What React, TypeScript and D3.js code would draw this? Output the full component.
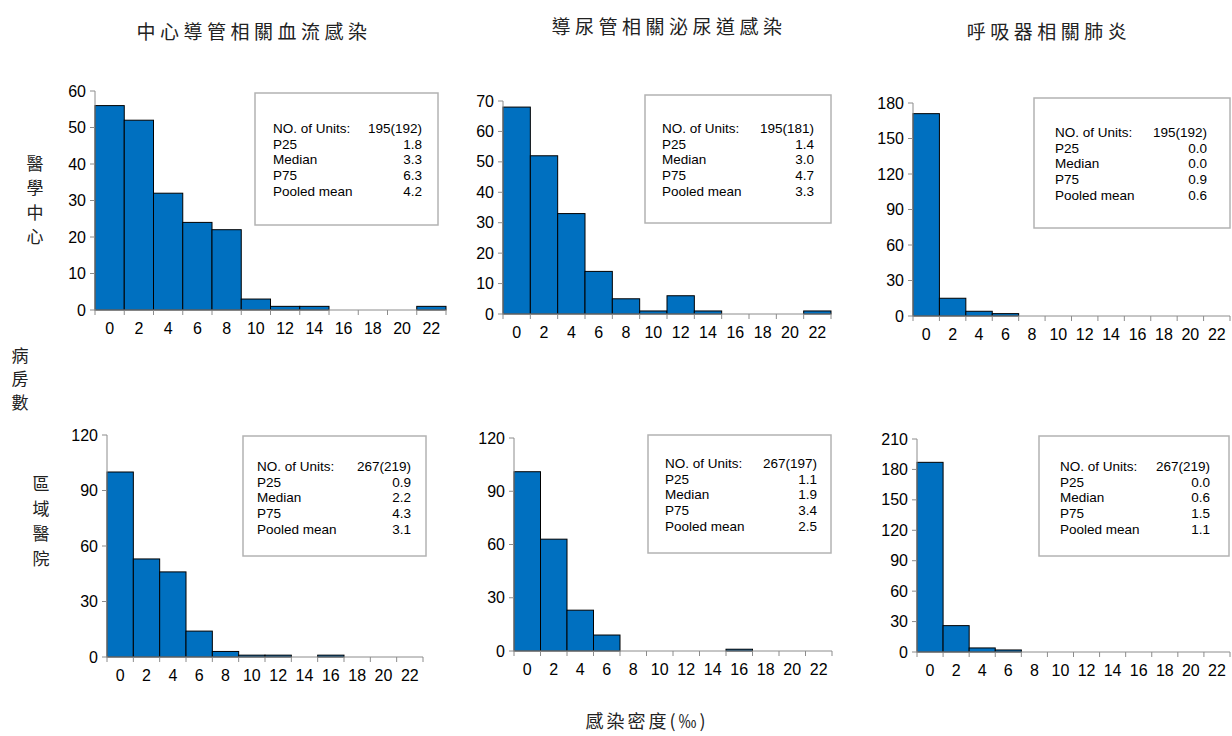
import React from "react";
import * as d3 from "d3";

// ---- Data ----
const binLabels = ["0", "2", "4", "6", "8", "10", "12", "14", "16", "18", "20", "22"];
const columnTitles = ["中心導管相關血流感染", "導尿管相關泌尿道感染", "呼吸器相關肺炎"];
const rowLabels = ["醫學中心", "區域醫院"];
const yAxisTitle = "病房數";
const xAxisTitle = "感染密度(‰)";

const clabsiMedical = [56, 52, 32, 24, 22, 3, 1, 1, 0, 0, 0, 1];
const cautiMedical = [68, 52, 33, 14, 5, 1, 6, 1, 0, 0, 0, 1];
const vapMedical = [171, 15, 4, 2, 0, 0, 0, 0, 0, 0, 0, 0];
const clabsiRegional = [100, 53, 46, 14, 3, 1, 1, 0, 1, 0, 0, 0];
const cautiRegional = [101, 63, 23, 9, 0, 0, 0, 0, 1, 0, 0, 0];
const vapRegional = [187, 26, 4, 2, 0, 0, 0, 0, 0, 0, 0, 0];

const statLabels = ["NO. of Units:", "P25", "Median", "P75", "Pooled mean"];
const statsClabsiMedical = ["195(192)", "1.8", "3.3", "6.3", "4.2"];
const statsCautiMedical = ["195(181)", "1.4", "3.0", "4.7", "3.3"];
const statsVapMedical = ["195(192)", "0.0", "0.0", "0.9", "0.6"];
const statsClabsiRegional = ["267(219)", "0.9", "2.2", "4.3", "3.1"];
const statsCautiRegional = ["267(197)", "1.1", "1.9", "3.4", "2.5"];
const statsVapRegional = ["267(219)", "0.0", "0.6", "1.5", "1.1"];

const yMaxes = [60, 70, 180, 120, 120, 210];
const ySteps = [10, 10, 30, 30, 30, 30];

// ---- Layout ----
const panels = [
  { values: clabsiMedical, stats: statsClabsiMedical, x0: 95, x1: 446, yBase: 310, yTop: 91, box: [255, 93, 438, 225], tx: 273, vx: 422, ty: 128, lh: 15.8 },
  { values: cautiMedical, stats: statsCautiMedical, x0: 503, x1: 831, yBase: 314, yTop: 101, box: [645, 95, 831, 223], tx: 662, vx: 814, ty: 128, lh: 15.8 },
  { values: vapMedical, stats: statsVapMedical, x0: 913, x1: 1230, yBase: 316, yTop: 103, box: [1034, 98, 1230, 228], tx: 1055, vx: 1207, ty: 132, lh: 15.8 },
  { values: clabsiRegional, stats: statsClabsiRegional, x0: 107, x1: 423, yBase: 657, yTop: 435, box: [243, 436, 426, 556], tx: 257, vx: 411, ty: 466, lh: 15.8 },
  { values: cautiRegional, stats: statsCautiRegional, x0: 514, x1: 832, yBase: 651, yTop: 438, box: [648, 435, 831, 553], tx: 665, vx: 817, ty: 463, lh: 15.8 },
  { values: vapRegional, stats: statsVapRegional, x0: 917, x1: 1230, yBase: 652, yTop: 439, box: [1039, 436, 1229, 556], tx: 1060, vx: 1210, ty: 466, lh: 15.8 },
];

const SANS = "Liberation Sans, Arial, sans-serif";
const CJK = "'Noto Sans CJK TC', 'Noto Sans CJK SC', sans-serif";
const AXIS = "#8c8c8c";

function Panel({ p, i }: { p: any; i: number }) {
  const x = d3.scaleBand<string>().domain(binLabels).range([p.x0, p.x1]).padding(0);
  const y = d3.scaleLinear().domain([0, yMaxes[i]]).range([p.yBase, p.yTop]);
  const yTicks = d3.range(0, yMaxes[i] + 1, ySteps[i]);
  const bw = x.bandwidth();
  const boundaries = d3.range(0, binLabels.length + 1).map((k) => p.x0 + k * bw);
  const [bx0, by0, bx1, by1] = p.box;
  return (
    <g>
      {p.values.map((v: number, k: number) =>
        v > 0 ? (
          <rect
            key={k}
            x={x(binLabels[k])}
            y={y(v)}
            width={bw}
            height={p.yBase - y(v)}
            fill="#0070C0"
            stroke="#000"
            strokeWidth={1}
          />
        ) : null
      )}
      <line x1={p.x0} x2={p.x0} y1={p.yBase} y2={y(yMaxes[i])} stroke={AXIS} strokeWidth={1} />
      {yTicks.map((t) => (
        <g key={t}>
          <line x1={p.x0 - 5} x2={p.x0} y1={y(t)} y2={y(t)} stroke={AXIS} />
          <text x={p.x0 - 9} y={y(t)} dy="0.35em" textAnchor="end" fontFamily={SANS} fontSize={16} fill="#000">
            {t}
          </text>
        </g>
      ))}
      <line x1={p.x0} x2={p.x1} y1={p.yBase} y2={p.yBase} stroke={AXIS} strokeWidth={1} />
      {boundaries.map((b, k) => (
        <line key={k} x1={b} x2={b} y1={p.yBase} y2={p.yBase + 5} stroke={AXIS} />
      ))}
      {binLabels.map((l) => (
        <text key={l} x={(x(l) as number) + bw / 2} y={p.yBase + 18} dy="0.35em" textAnchor="middle" fontFamily={SANS} fontSize={16} fill="#000">
          {l}
        </text>
      ))}
      <rect x={bx0} y={by0} width={bx1 - bx0} height={by1 - by0} fill="#fff" stroke="#b3b3b3" strokeWidth={1.5} />
      {statLabels.map((s, k) => (
        <g key={s}>
          <text x={p.tx} y={p.ty + k * p.lh} dy="0.35em" fontFamily={SANS} fontSize={13.5} fill="#000">
            {s}
          </text>
          <text x={p.vx} y={p.ty + k * p.lh} dy="0.35em" textAnchor="end" fontFamily={SANS} fontSize={13.5} fill="#000">
            {p.stats[k]}
          </text>
        </g>
      ))}
    </g>
  );
}

function VerticalText({ text, x, y, step }: { text: string; x: number; y: number; step: number }) {
  return (
    <g>
      {Array.from(text).map((c, k) => (
        <text key={k} x={x} y={y + k * step} dy="0.35em" textAnchor="middle" fontFamily={CJK} fontSize={17} fill="#222">
          {c}
        </text>
      ))}
    </g>
  );
}

export default function App() {
  const titleX = [254, 669, 1049];
  const titleY = [32, 27, 32];
  return (
    <svg width={1232} height={736} style={{ position: "absolute", left: 0, top: 0, background: "#fff" }}>
      <rect x={0} y={0} width={1232} height={736} fill="#fff" />
      {columnTitles.map((t, k) => (
        <text key={t} x={titleX[k]} y={titleY[k]} dy="0.35em" textAnchor="middle" fontFamily={CJK} fontSize={19} letterSpacing={4.5} fill="#222">
          {t}
        </text>
      ))}
      <VerticalText text={rowLabels[0]} x={35} y={164} step={24.5} />
      <VerticalText text={yAxisTitle} x={20} y={356} step={23.5} />
      <VerticalText text={rowLabels[1]} x={41} y={484} step={25} />
      <text x={647} y={722} dy="0.35em" textAnchor="middle" fontFamily={CJK} fontSize={18} letterSpacing={3} fill="#222">
        {xAxisTitle}
      </text>
      {panels.map((p, i) => (
        <Panel key={i} p={p} i={i} />
      ))}
    </svg>
  );
}
